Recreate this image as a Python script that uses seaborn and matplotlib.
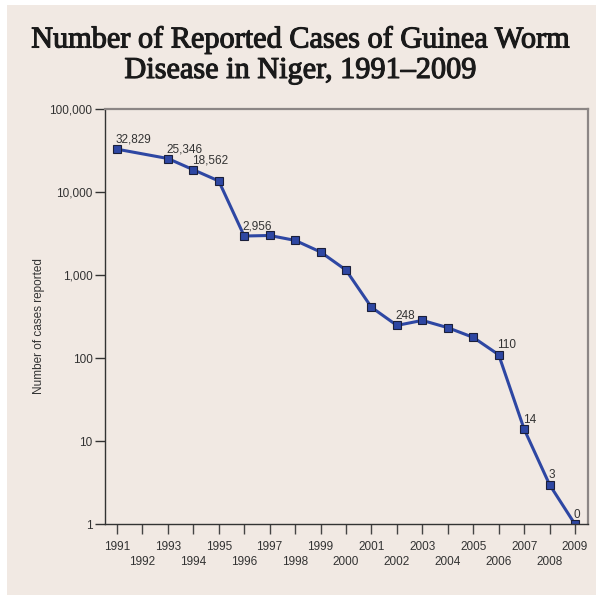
import numpy as np
import pandas as pd
import matplotlib
matplotlib.use("Agg")
import matplotlib.pyplot as plt
import matplotlib.patheffects as pe
from matplotlib.patches import Rectangle
import seaborn as sns

# Reported Guinea worm cases in Niger (no figure for 1992)
years = [1991, 1993, 1994, 1995, 1996, 1997, 1998, 1999, 2000,
         2001, 2002, 2003, 2004, 2005, 2006, 2007, 2008, 2009]
cases = [32829, 25346, 18562, 13600, 2956, 3000, 2620, 1900, 1150,
         410, 248, 285, 233, 178, 110, 14, 3, 0]
# Years whose counts are written next to the marker
labelled_years = [1991, 1993, 1994, 1996, 2002, 2006, 2007, 2008, 2009]

tick_years = list(range(1991, 2010))
y_ticks = [1, 10, 100, 1000, 10000, 100000]
y_tick_labels = ["1", "10", "100", "1,000", "10,000", "100,000"]

title_line1 = "Number of Reported Cases of Guinea Worm"
title_line2 = "Disease in Niger, 1991\u20132009"
y_label = "Number of cases reported"

BEIGE = "#F1E9E3"
BLUE = "#2E47A3"
DARK = "#333333"
FRAME = "#8C8685"

sns.set_theme(style="white")
plt.rcParams["font.family"] = ["Liberation Sans", "DejaVu Sans"]

df = pd.DataFrame({"year": years, "cases": cases})
# a zero count cannot sit on a log axis, so it is drawn on the axis floor
df["plotted"] = np.maximum(df["cases"], 1)

fig = plt.figure(figsize=(6.0, 5.97), dpi=100, facecolor="white")
fig.patches.append(Rectangle((7 / 600, 2 / 597), 589 / 600, 590 / 597,
                             transform=fig.transFigure, facecolor=BEIGE,
                             edgecolor="none", zorder=-10))

ax = fig.add_axes([105 / 600, (597 - 524.3) / 597, 483 / 600, 415.3 / 597])
ax.set_facecolor(BEIGE)

sns.lineplot(data=df, x="year", y="plotted", ax=ax, color=BLUE,
             linewidth=2.2, marker="s", markersize=6,
             markerfacecolor=BLUE, markeredgecolor="#1a1f3a",
             markeredgewidth=0.8, clip_on=True)

ax.set_yscale("log")
ax.set_ylim(1, 100000)
ax.set_xlim(1990.53, 2009.51)

ax.set_yticks(y_ticks)
ax.set_yticklabels(y_tick_labels)
ax.yaxis.set_minor_locator(matplotlib.ticker.NullLocator())

ax.set_xticks(tick_years)
ax.set_xticklabels([str(y) if y % 2 else "\n" + str(y) for y in tick_years],
                   linespacing=1.3)

ax.tick_params(axis="y", which="major", direction="out", length=7,
               width=1.0, color=DARK, labelsize=8.5, labelcolor=DARK, pad=2,
               left=True)
ax.tick_params(axis="x", which="major", direction="out", length=7,
               width=1.0, color="#444444", labelsize=8.5, labelcolor=DARK,
               pad=5, bottom=True)

for side in ("left", "bottom"):
    ax.spines[side].set_color(DARK)
    ax.spines[side].set_linewidth(1.0)
for side in ("top", "right"):
    ax.spines[side].set_color(FRAME)
    ax.spines[side].set_linewidth(1.6)

ax.set_xlabel("")
ax.set_ylabel(y_label, fontsize=8.5, color=DARK)
ax.yaxis.set_label_coords(-0.125, 0.477)

for yr, val, pv in zip(df["year"], df["cases"], df["plotted"]):
    if yr in labelled_years:
        ax.annotate(f"{val:,}", xy=(yr, pv), xytext=(-1, 2.5),
                    textcoords="offset points", ha="left", va="bottom",
                    fontsize=8.5, color=DARK, annotation_clip=False)

# regular serif face thickened slightly with a thin stroke
title_kw = dict(ha="center", va="center", fontsize=21.8, color="#1a1a1a",
                family=["Liberation Serif", "DejaVu Serif"],
                path_effects=[pe.withStroke(linewidth=0.8,
                                            foreground="#1a1a1a")])
fig.text(0.5, 1 - 40 / 597, title_line1, **title_kw)
fig.text(0.5, 1 - 71 / 597, title_line2, **title_kw)

fig.savefig("out.png", dpi=100, facecolor="white")
